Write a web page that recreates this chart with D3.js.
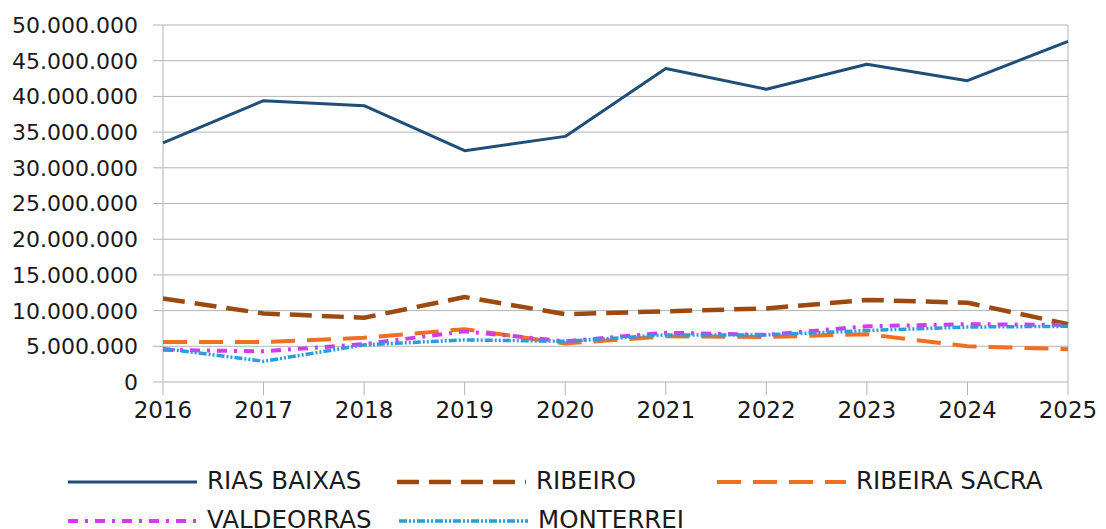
<!DOCTYPE html>
<html>
<head>
<meta charset="utf-8">
<script src="https://cdn.jsdelivr.net/npm/d3@7"></script>
<style>
  body { margin: 0; background: #fff; }
  svg { display: block; font-family: "DejaVu Sans", Verdana, sans-serif; }
</style>
</head>
<body>
<svg id="chart" width="1106" height="529"></svg>
<script>
// years on the x axis
var years = [2016, 2017, 2018, 2019, 2020, 2021, 2022, 2023, 2024, 2025];
var yTicks = [0, 5e6, 10e6, 15e6, 20e6, 25e6, 30e6, 35e6, 40e6, 45e6, 50e6];

// series values (litres)
var riasBaixas   = [33.5e6, 39.4e6, 38.7e6, 32.4e6, 34.4e6, 43.9e6, 41.0e6, 44.5e6, 42.2e6, 47.7e6];
var ribeiro      = [11.7e6, 9.6e6, 9.0e6, 11.9e6, 9.5e6, 9.9e6, 10.3e6, 11.5e6, 11.1e6, 8.1e6];
var ribeiraSacra = [5.6e6, 5.6e6, 6.2e6, 7.4e6, 5.4e6, 6.4e6, 6.3e6, 6.7e6, 5.0e6, 4.6e6];
var valdeorras   = [4.5e6, 4.3e6, 5.3e6, 7.1e6, 5.7e6, 6.9e6, 6.6e6, 7.8e6, 8.1e6, 8.0e6];
var monterrei    = [4.7e6, 2.9e6, 5.2e6, 5.9e6, 5.7e6, 6.6e6, 6.6e6, 7.2e6, 7.7e6, 7.8e6];

var seriesNames = ['RIAS BAIXAS', 'RIBEIRO', 'RIBEIRA SACRA', 'VALDEORRAS', 'MONTERREI'];
var seriesData = [riasBaixas, ribeiro, ribeiraSacra, valdeorras, monterrei];
var seriesColors = ['#1f4e79', '#9c4a12', '#f07022', '#d23cf0', '#2a9ddb'];
var seriesDash = [null, '22,10', '24,12', '10,7,3,7', '8,2,2,2,2,2'];
var seriesWidth = [3, 4.5, 4, 4, 3.5];

var svg = d3.select('#chart');
var plotL = 163, plotR = 1068, plotT = 25, plotB = 382;

var x = d3.scalePoint().domain(years).range([plotL, plotR]);
var y = d3.scaleLinear().domain([0, 50e6]).range([plotB, plotT]);

var fmt = function (v) {
  return d3.format(',')(v).replace(/,/g, '.');
};

// gridlines
svg.append('g')
  .selectAll('line')
  .data(yTicks)
  .join('line')
    .attr('x1', plotL - 10)
    .attr('x2', plotR)
    .attr('y1', function (d) { return y(d); })
    .attr('y2', function (d) { return y(d); })
    .attr('stroke', '#b3b3b3')
    .attr('stroke-width', 1);

// y tick labels
svg.append('g')
  .selectAll('text')
  .data(yTicks)
  .join('text')
    .attr('x', 138)
    .attr('y', function (d) { return y(d); })
    .attr('dy', '0.36em')
    .attr('text-anchor', 'end')
    .attr('font-size', 22)
    .attr('fill', '#1a1a1a')
    .text(fmt);

// x axis ticks
svg.append('g')
  .selectAll('line')
  .data(years)
  .join('line')
    .attr('x1', function (d) { return x(d); })
    .attr('x2', function (d) { return x(d); })
    .attr('y1', plotB)
    .attr('y2', plotB + 13)
    .attr('stroke', '#b3b3b3');

svg.append('g')
  .selectAll('text')
  .data(years)
  .join('text')
    .attr('x', function (d) { return x(d); })
    .attr('y', 418)
    .attr('text-anchor', 'middle')
    .attr('font-size', 23)
    .attr('fill', '#1a1a1a')
    .text(function (d) { return d; });

// plot frame (left axis and right border)
svg.append('line')
  .attr('x1', plotL).attr('x2', plotL)
  .attr('y1', plotT).attr('y2', plotB)
  .attr('stroke', '#b3b3b3');
svg.append('line')
  .attr('x1', plotR).attr('x2', plotR)
  .attr('y1', plotT).attr('y2', plotB)
  .attr('stroke', '#b3b3b3');

// series lines (straight segments)
var line = d3.line()
  .x(function (d, i) { return x(years[i]); })
  .y(function (d) { return y(d); });

seriesData.forEach(function (vals, i) {
  svg.append('path')
    .datum(vals)
    .attr('d', line)
    .attr('fill', 'none')
    .attr('stroke', seriesColors[i])
    .attr('stroke-width', seriesWidth[i])
    .attr('stroke-linejoin', 'round')
    .attr('stroke-dasharray', seriesDash[i]);
});

// legend
var legendPos = [[68, 482], [397, 482], [717, 482], [68, 521], [399, 521]];
var legend = svg.append('g');
seriesNames.forEach(function (name, i) {
  var p = legendPos[i];
  legend.append('line')
    .attr('x1', p[0]).attr('x2', p[0] + 129)
    .attr('y1', p[1]).attr('y2', p[1])
    .attr('stroke', seriesColors[i])
    .attr('stroke-width', seriesWidth[i])
    .attr('stroke-dasharray', seriesDash[i]);
  legend.append('text')
    .attr('x', p[0] + 139)
    .attr('y', p[1] + 7)
    .attr('font-size', 24.5)
    .attr('fill', '#1a1a1a')
    .text(name);
});
</script>
</body>
</html>
